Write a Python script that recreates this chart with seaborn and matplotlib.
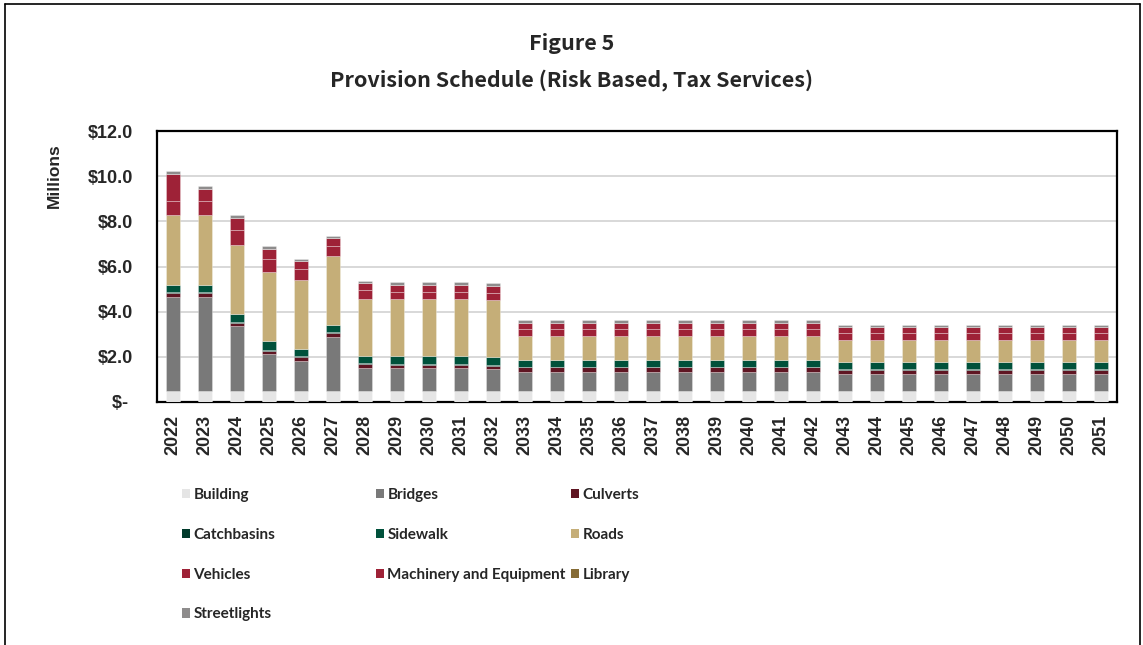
import matplotlib
matplotlib.use("Agg")
import matplotlib.pyplot as plt
from matplotlib.patches import Patch
from matplotlib.lines import Line2D
import seaborn as sns
import pandas as pd

years = [2022, 2023, 2024, 2025, 2026, 2027, 2028, 2029, 2030, 2031,
         2032, 2033, 2034, 2035, 2036, 2037, 2038, 2039, 2040, 2041,
         2042, 2043, 2044, 2045, 2046, 2047, 2048, 2049, 2050, 2051]

# Annual provision by asset class ($ millions)
building = [0.49, 0.49, 0.49, 0.49, 0.49, 0.49, 0.49, 0.49, 0.49, 0.49,
            0.49, 0.49, 0.49, 0.49, 0.49, 0.49, 0.49, 0.49, 0.49, 0.49,
            0.49, 0.49, 0.49, 0.49, 0.49, 0.49, 0.49, 0.49, 0.49, 0.49]
bridges = [4.16, 4.16, 2.86, 1.64, 1.33, 2.37, 1.02, 1.01, 1.01, 1.01,
           0.96, 0.84, 0.84, 0.84, 0.84, 0.84, 0.84, 0.84, 0.84, 0.84,
           0.84, 0.77, 0.77, 0.77, 0.77, 0.77, 0.77, 0.77, 0.77, 0.77]
culverts = [0.18, 0.18, 0.16, 0.15, 0.16, 0.18, 0.16, 0.15, 0.15, 0.15,
            0.16, 0.20, 0.20, 0.20, 0.20, 0.20, 0.20, 0.20, 0.20, 0.20,
            0.20, 0.16, 0.16, 0.16, 0.16, 0.16, 0.16, 0.16, 0.16, 0.16]
catchbasins = [0.04, 0.04, 0.04, 0.04, 0.04, 0.04, 0.04, 0.04, 0.04, 0.04,
               0.04, 0.04, 0.04, 0.04, 0.04, 0.04, 0.04, 0.04, 0.04, 0.04,
               0.04, 0.04, 0.04, 0.04, 0.04, 0.04, 0.04, 0.04, 0.04, 0.04]
sidewalk = [0.33, 0.33, 0.36, 0.36, 0.33, 0.35, 0.33, 0.36, 0.36, 0.36,
            0.36, 0.30, 0.30, 0.30, 0.30, 0.30, 0.30, 0.30, 0.30, 0.30,
            0.30, 0.32, 0.32, 0.32, 0.32, 0.32, 0.32, 0.32, 0.32, 0.32]
roads = [3.08, 3.07, 3.05, 3.07, 3.07, 3.04, 2.52, 2.52, 2.52, 2.52,
         2.50, 1.05, 1.05, 1.05, 1.05, 1.05, 1.05, 1.05, 1.05, 1.05,
         1.05, 0.96, 0.96, 0.96, 0.96, 0.96, 0.96, 0.96, 0.96, 0.96]
vehicles = [0.64, 0.65, 0.67, 0.60, 0.47, 0.44, 0.38, 0.30, 0.30, 0.30,
            0.31, 0.30, 0.30, 0.30, 0.30, 0.30, 0.30, 0.30, 0.30, 0.30,
            0.30, 0.30, 0.30, 0.30, 0.30, 0.30, 0.30, 0.30, 0.30, 0.30]
machinery = [1.17, 0.52, 0.50, 0.44, 0.34, 0.33, 0.31, 0.29, 0.29, 0.29,
             0.30, 0.28, 0.28, 0.28, 0.28, 0.28, 0.28, 0.28, 0.28, 0.28,
             0.28, 0.27, 0.27, 0.27, 0.27, 0.27, 0.27, 0.27, 0.27, 0.27]
library = [0.0, 0.0, 0.0, 0.0, 0.0, 0.0, 0.0, 0.0, 0.0, 0.0,
           0.0, 0.0, 0.0, 0.0, 0.0, 0.0, 0.0, 0.0, 0.0, 0.0,
           0.0, 0.0, 0.0, 0.0, 0.0, 0.0, 0.0, 0.0, 0.0, 0.0]
streetlights = [0.15, 0.13, 0.13, 0.12, 0.12, 0.13, 0.13, 0.15, 0.15, 0.15,
                0.15, 0.15, 0.15, 0.15, 0.15, 0.15, 0.15, 0.15, 0.15, 0.15,
                0.15, 0.12, 0.12, 0.12, 0.12, 0.12, 0.12, 0.12, 0.12, 0.12]

categories = ["Building", "Bridges", "Culverts", "Catchbasins", "Sidewalk",
              "Roads", "Vehicles", "Machinery and Equipment", "Library",
              "Streetlights"]
series = [building, bridges, culverts, catchbasins, sidewalk, roads,
          vehicles, machinery, library, streetlights]
colors = ["#e5e5e5", "#797979", "#5f1522", "#003a2b", "#00513b", "#c5ae78",
          "#9e2237", "#9e2237", "#856b35", "#8e8c8c"]

y_ticks = [0, 2, 4, 6, 8, 10, 12]
y_tick_labels = ["$- ", "$2.0", "$4.0", "$6.0", "$8.0", "$10.0", "$12.0"]

rows = []
for cat, vals in zip(categories, series):
    for yr, v in zip(years, vals):
        rows.append({"Year": yr, "Category": cat, "Value": v})
df = pd.DataFrame(rows)
palette = dict(zip(categories, colors))

sns.set_theme(style="white")
plt.rcParams["font.family"] = ["Liberation Sans", "DejaVu Sans"]
plt.rcParams["text.parse_math"] = False

fig = plt.figure(figsize=(11.43, 6.45), dpi=100)
ax = fig.add_axes([157 / 1143, 1 - 402 / 645, 960 / 1143, 271 / 645])

# seaborn stacks hue levels top-down, so feed the order reversed
sns.histplot(data=df, x="Year", weights="Value", hue="Category",
             hue_order=categories[::-1], palette=palette, multiple="stack",
             discrete=True, shrink=0.41, alpha=1, legend=False,
             edgecolor=(1, 1, 1, 0.35), linewidth=0.6, ax=ax, zorder=3)

ax.set_xlim(2021.5, 2051.5)
ax.set_ylim(0, 12)
ax.set_xticks(years)
ax.set_xticklabels([str(y) for y in years], rotation=90,
                   fontsize=13, fontweight="bold")
ax.set_yticks(y_ticks)
ax.set_yticklabels(y_tick_labels, fontsize=13, fontweight="bold")
ax.tick_params(axis="x", length=0, pad=9)
ax.tick_params(axis="y", length=0, pad=17)
ax.set_xlabel("")
ax.set_ylabel("Millions", fontsize=12.5, fontweight="bold", labelpad=0)
ax.yaxis.set_label_coords(-0.099, 0.834)
ax.grid(axis="y", color="#d6d6d6", linewidth=1.3, zorder=0)
ax.grid(axis="x", visible=False)
for side in ["left", "right", "top", "bottom"]:
    ax.spines[side].set_visible(True)
    ax.spines[side].set_color("black")
    ax.spines[side].set_linewidth(1.6)

title_font = ["Noto Sans CJK JP", "DejaVu Sans"]
fig.text(572 / 1143, 1 - 44 / 645, "Figure 5", ha="center", va="center",
         fontsize=15.5, fontweight="bold", family=title_font)
fig.text(572 / 1143, 1 - 80 / 645,
         "Provision Schedule (Risk Based, Tax Services)",
         ha="center", va="center", fontsize=15.5, fontweight="bold",
         family=title_font)

# Legend laid out as three equal-width columns, filled row by row
legend_font = ["Lato", "DejaVu Sans"]
col_x = [182, 376, 571]
for c in range(3):
    idx = list(range(c, len(categories), 3))
    handles = [Patch(facecolor=colors[i], edgecolor="none") for i in idx]
    labels = [categories[i] for i in idx]
    fig.legend(handles, labels, loc="upper left",
               bbox_to_anchor=(col_x[c] / 1143, 1 - 488 / 645),
               frameon=False, handlelength=0.5, handleheight=0.55,
               handletextpad=0.25, labelspacing=1.69, borderpad=0,
               borderaxespad=0,
               prop={"family": legend_font, "weight": "bold", "size": 11})

# Outer chart frame
frame_kw = dict(transform=fig.transFigure, color="black", linewidth=1.2)
fig.add_artist(Line2D([5 / 1143, 1140 / 1143], [1 - 4 / 645, 1 - 4 / 645],
                      **frame_kw))
fig.add_artist(Line2D([5 / 1143, 5 / 1143], [0, 1 - 4 / 645], **frame_kw))
fig.add_artist(Line2D([1140 / 1143, 1140 / 1143], [0, 1 - 4 / 645],
                      **frame_kw))

fig.savefig("out.png", dpi=100)
